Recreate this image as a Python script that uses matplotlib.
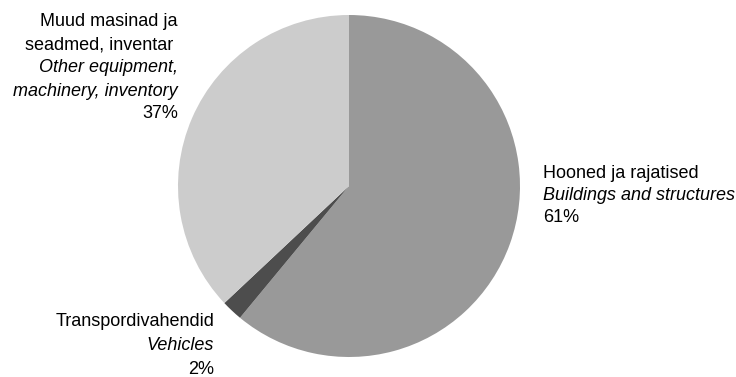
import matplotlib
matplotlib.use("Agg")
import matplotlib.pyplot as plt

categories_et = ["Hooned ja rajatised", "Transpordivahendid", "Muud masinad ja\nseadmed, inventar "]
categories_en = ["Buildings and structures", "Vehicles", "Other equipment,\nmachinery, inventory"]
shares = [61, 2, 37]
colors = ["#999999", "#4d4d4d", "#cccccc"]

plt.rcParams['font.family'] = ['Liberation Sans', 'DejaVu Sans']

W, H = 736, 377
fig = plt.figure(figsize=(W / 100, H / 100), dpi=100)
ax = fig.add_axes([0, 0, 1, 1])
ax.set_xlim(0, W)
ax.set_ylim(0, H)
ax.set_aspect('equal')
ax.axis('off')

cx, cy, r = 349, H - 186, 171
ax.pie(shares, colors=colors, startangle=90, counterclock=False,
       center=(cx, cy), radius=r, frame=True,
       wedgeprops=dict(linewidth=0))
ax.set_xlim(0, W)
ax.set_ylim(0, H)
ax.axis('off')

fs = 13

def block(x, y_top, lines, ha, step=22.5):
    y = y_top
    for text, style in lines:
        ax.text(x, H - y, text, ha=ha, va='center', fontsize=fs, style=style, color='black')
        y += step

def lines_for(i):
    out = []
    for t in categories_et[i].split("\n"):
        out.append((t, 'normal'))
    for t in categories_en[i].split("\n"):
        out.append((t, 'italic'))
    out.append((f"{shares[i]}%", 'normal'))
    return out

block(543, 174, lines_for(0), 'left', 22)
block(214, 321, lines_for(1), 'right', 24)
block(178, 22, lines_for(2), 'right', 23)

fig.savefig("out.png", dpi=100)
